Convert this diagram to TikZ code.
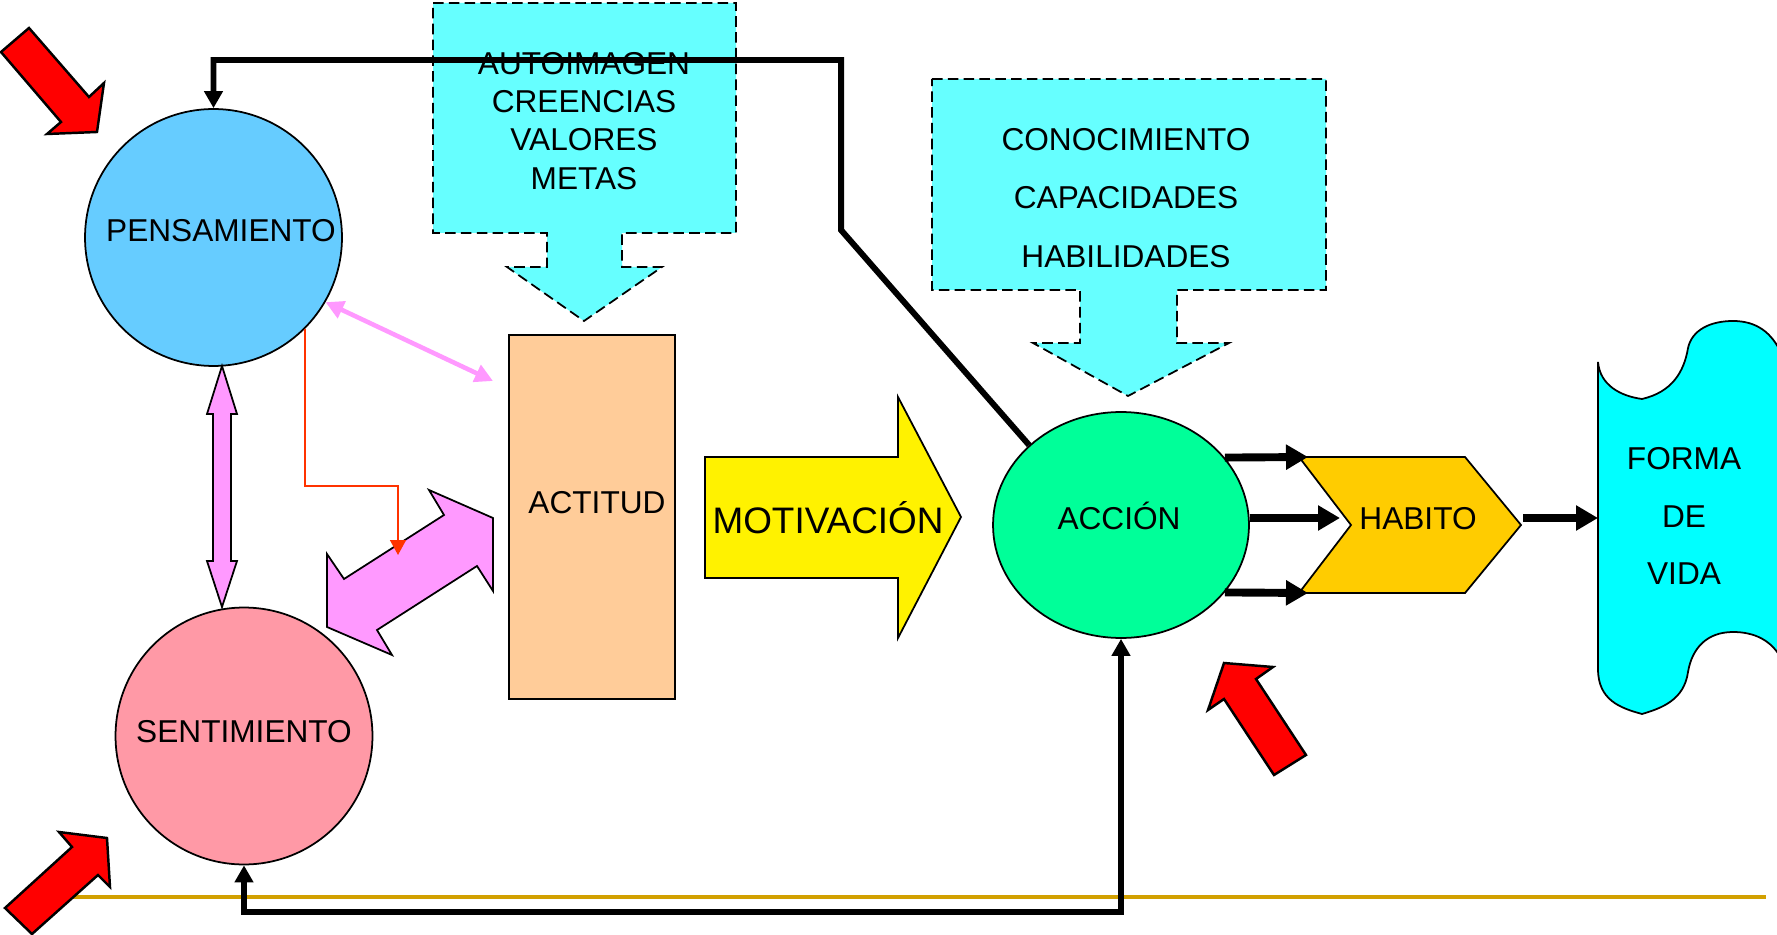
\documentclass[tikz,border=0pt]{standalone}
\usepackage{fontspec}
\setmainfont{Liberation Sans}
\usetikzlibrary{arrows.meta, shapes.geometric}
\definecolor{pensblue}{RGB}{102,204,255}
\definecolor{sentpink}{RGB}{255,153,166}
\definecolor{infocyan}{RGB}{102,255,255}
\definecolor{actpeach}{RGB}{255,204,153}
\definecolor{accgreen}{RGB}{0,255,153}
\definecolor{habgold}{RGB}{255,204,0}
\definecolor{vidacyan}{RGB}{0,255,255}
\definecolor{linkpink}{RGB}{255,153,255}
\definecolor{elbowred}{RGB}{255,51,0}
\definecolor{rulegold}{RGB}{210,160,0}

\begin{document}
\begin{tikzpicture}[
    x=0.02cm, y=-0.02cm,
    every node/.style={font=\fontsize{18}{21.7}\selectfont, inner sep=0pt},
    state/.style={circle, draw, line width=1pt, minimum size=5.14cm},
    attitude/.style={rectangle, draw, line width=1pt, fill=actpeach, minimum width=3.32cm, minimum height=7.28cm},
    action/.style={ellipse, draw, line width=1pt, fill=accgreen, minimum width=5.12cm, minimum height=4.52cm},
    word/.style={anchor=base},
    block/.style={draw, line width=1pt, line join=miter},
    infobox/.style={block, dash pattern=on 6pt off 3pt, fill=infocyan},
    redarrow/.style={draw, line width=1.4pt, fill=red, line join=miter},
    fat/.style={line width=4.5pt, -{Triangle[length=0.44cm, width=0.48cm]}},
    feedback/.style={line width=3.4pt, line join=miter},
]
\useasboundingbox (0,0) rectangle (1777,935);
\clip (0,0) rectangle (1777,935);

% Base rule
\draw[rulegold, line width=2.3pt] (60,897) -- (1766,897);

% Input boxes
\draw[infobox] (433,3) -- (736,3) -- (736,233) -- (622,233) -- (622,267) -- (662,267)
  -- (584,321) -- (507,267) -- (547,267) -- (547,233) -- (433,233) -- cycle;
\node[align=center] (beliefs) at (584,121) {AUTOIMAGEN\\CREENCIAS\\VALORES\\METAS};

\draw[infobox] (932,79) -- (1326,79) -- (1326,290) -- (1177,290) -- (1177,343) -- (1229,343)
  -- (1128,396) -- (1033,343) -- (1080,343) -- (1080,290) -- (932,290) -- cycle;
\node[align=center, font=\fontsize{18}{33.2}\selectfont] (skills) at (1126,198) {CONOCIMIENTO\\CAPACIDADES\\HABILIDADES};

% States
\node[state, fill=pensblue] (pens) at (213.5,237.5) {};
\node[word] (penstxt) at (221,242) {PENSAMIENTO};
\node[state, fill=sentpink] (sent) at (244,736) {};
\node[word] (senttxt) at (244,742) {SENTIMIENTO};

\node[attitude] (act) at (592,517) {};
\node[word] (acttxt) at (597,513) {ACTITUD};

% Motivation
\draw[block, fill=yellow] (705,457) -- (898,457) -- (898,397) -- (961,517) -- (898,638)
  -- (898,578) -- (705,578) -- cycle;
\node[word, font=\fontsize{21}{25}\selectfont] (mot) at (828,533) {MOTIVACIÓN};

\node[action] (acc) at (1121,525) {};
\node[word] (acctxt) at (1119,529) {ACCIÓN};

% Habit and way of life
\draw[block, fill=habgold] (1299,457) -- (1465,457) -- (1521,525) -- (1465,593) -- (1299,593)
  -- (1351,525) -- cycle;
\node[word] (hab) at (1418,529) {HABITO};

\draw[block, fill=vidacyan] (1598,362) .. controls (1600,385) and (1620,396) .. (1642,399)
  .. controls (1672,392) and (1684,372) .. (1688,348)
  .. controls (1692,330) and (1710,321) .. (1733,321)
  .. controls (1756,321) and (1772,332) .. (1782,355)
  -- (1782,660)
  .. controls (1772,640) and (1754,632) .. (1733,632)
  .. controls (1707,632) and (1692,648) .. (1688,672)
  .. controls (1684,700) and (1662,708) .. (1642,714)
  .. controls (1620,708) and (1598,700) .. (1598,669) -- cycle;
\node[align=center, font=\fontsize{18}{32.9}\selectfont] (vida) at (1684,516) {FORMA\\DE\\VIDA};

% Links between thought, feeling and attitude
\draw[block, fill=linkpink] (222,366) -- (237,414) -- (231,414) -- (231,561) -- (237,561)
  -- (222,607) -- (207,561) -- (213,561) -- (213,414) -- (207,414) -- cycle;
\draw[block, fill=linkpink] (429,490) -- (493,518) -- (493,591) -- (477,566) -- (377,630)
  -- (392,655) -- (327,627) -- (327,554) -- (344,579) -- (444,515) -- cycle;

\coordinate (actlink) at (493,381);
\draw[linkpink, line width=2.6pt, {Triangle[length=0.36cm, width=0.36cm]}-{Triangle[length=0.36cm, width=0.36cm]}]
  (pens.-30.5) -- (actlink);

\coordinate (elbowend) at (398,555);
\draw[elbowred, line width=0.9pt, -{Triangle[length=0.3cm, width=0.32cm]}]
  (pens.south east) -- ++(0,157) -| (elbowend);

% Feedback loops
\draw[feedback, -{Triangle[length=0.34cm, width=0.36cm]}]
  (acc.139) -- (841,230) -- (841,60) -| (pens.north);
\draw[feedback, {Triangle[length=0.34cm, width=0.36cm]}-{Triangle[length=0.34cm, width=0.36cm]}]
  (sent.south) -- ++(0,47) -| (acc.south);

% Action to habit
\coordinate (habtop) at (1308,457);
\coordinate (habmid) at (1340,518);
\coordinate (habbot) at (1308,593);
\coordinate (habout) at (1523,518);
\coordinate (vidain) at (1598,518);
\draw[fat] (acc.33.7) -- (habtop);
\draw[fat] (acc.east |- habmid) -- (habmid);
\draw[fat] (acc.-33.7) -- (habbot);
\draw[fat] (habout) -- (vidain);

% Red arrows
\draw[redarrow] (1,52) -- (29,28) -- (89,97) -- (104,83) -- (97,132) -- (47,134) -- (61,122) -- cycle;
\draw[redarrow] (5,908) -- (72,847) -- (59,832) -- (107,838) -- (110,887) -- (98,875) -- (32,934) -- cycle;
\draw[redarrow] (1224,663) -- (1273,667) -- (1256,679) -- (1306,755) -- (1274,775) -- (1224,699) -- (1208,710) -- cycle;

\end{tikzpicture}
\end{document}
